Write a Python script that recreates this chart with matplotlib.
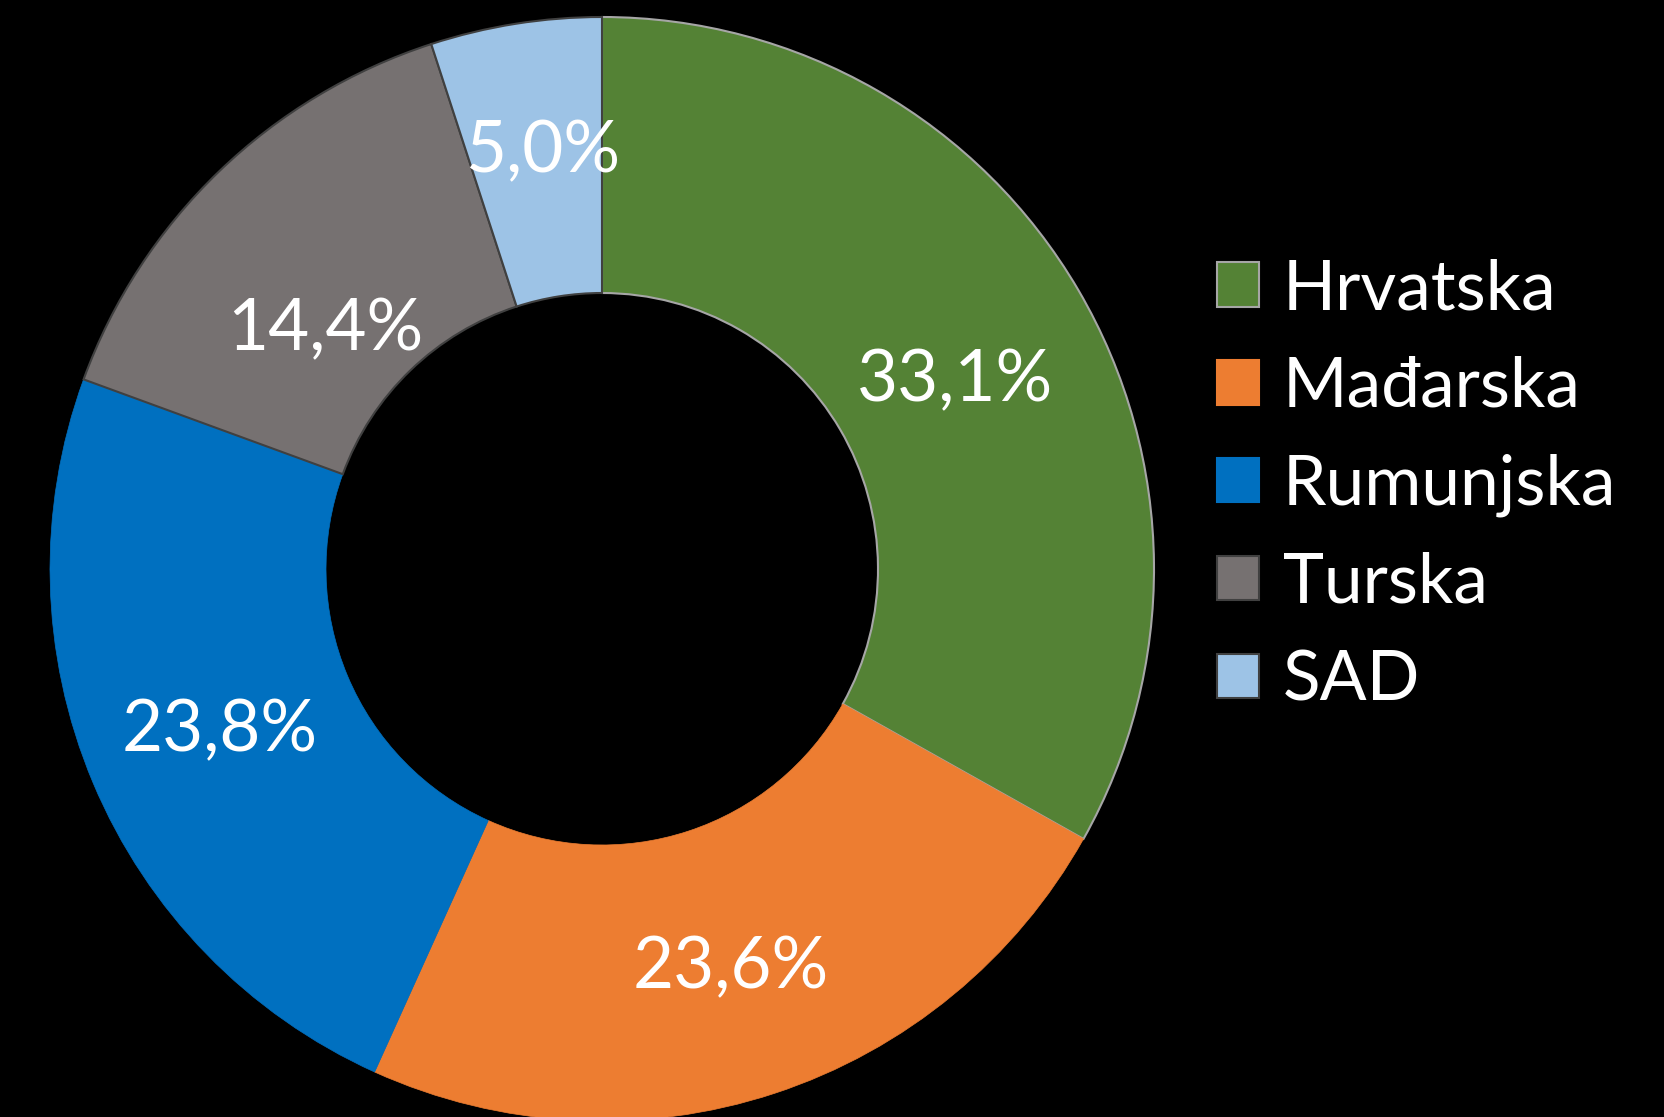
import matplotlib
matplotlib.use("Agg")
import matplotlib.pyplot as plt
from matplotlib.patches import Patch
import numpy as np

# data
countries = ["Hrvatska", "Mađarska", "Rumunjska", "Turska", "SAD"]
shares = [33.1, 23.6, 23.8, 14.4, 5.0]
labels = ["33,1%", "23,6%", "23,8%", "14,4%", "5,0%"]
colors = ["#548235", "#ED7D31", "#0070C0", "#767171", "#9DC3E6"]
edges = ["#A6A6A6", "none", "none", "#404040", "#404040"]
# small nudges (px) of the data labels, as in the original
nudges = [(1, -19), (0, -11), (-6, -2), (8, -53), (7, 14)]

plt.rcParams["font.family"] = ["Lato", "DejaVu Sans"]

W, H = 1665, 1117
fig = plt.figure(figsize=(W / 100, H / 100), dpi=100, facecolor="black")

# donut centre (602, 569) px from top-left, outer radius 552 px
cx, cy, R = 602, 569, 552
ax = fig.add_axes([(cx - R) / W, (H - cy - R) / H, 2 * R / W, 2 * R / H])
ax.set_facecolor("black")

wedges, texts = ax.pie(shares, colors=colors, startangle=90, counterclock=False,
                       radius=1, wedgeprops=dict(width=0.5, linewidth=1.5))
for w, ec in zip(wedges, edges):
    if ec == "none":
        w.set_edgecolor(w.get_facecolor())
        w.set_linewidth(0.5)
    else:
        w.set_edgecolor(ec)

# percentage labels in the middle of each ring segment
theta = 90
for val, lab, (dx, dy) in zip(shares, labels, nudges):
    mid = np.deg2rad(theta - val * 3.6 / 2)
    ax.annotate(lab, (0.74 * np.cos(mid), 0.74 * np.sin(mid)),
                xytext=(dx * 0.72, dy * 0.72), textcoords="offset points",
                color="white", fontsize=51, ha="center", va="center")
    theta -= val * 3.6

ax.set_xlim(-1, 1)
ax.set_ylim(-1, 1)
ax.set_aspect("equal")
ax.axis("off")

handles = [Patch(facecolor=c, edgecolor=e if e != "none" else c, linewidth=1.5)
           for c, e in zip(colors, edges)]
leg = fig.legend(handles, countries, loc="upper left",
                 bbox_to_anchor=(1217 / W, 1 - 258 / H), frameon=False,
                 fontsize=50, labelcolor="white", handlelength=0.61,
                 handleheight=0.61, handletextpad=0.34, labelspacing=0.50,
                 borderaxespad=0, borderpad=0)

fig.savefig("out.png", dpi=100, facecolor="black")
